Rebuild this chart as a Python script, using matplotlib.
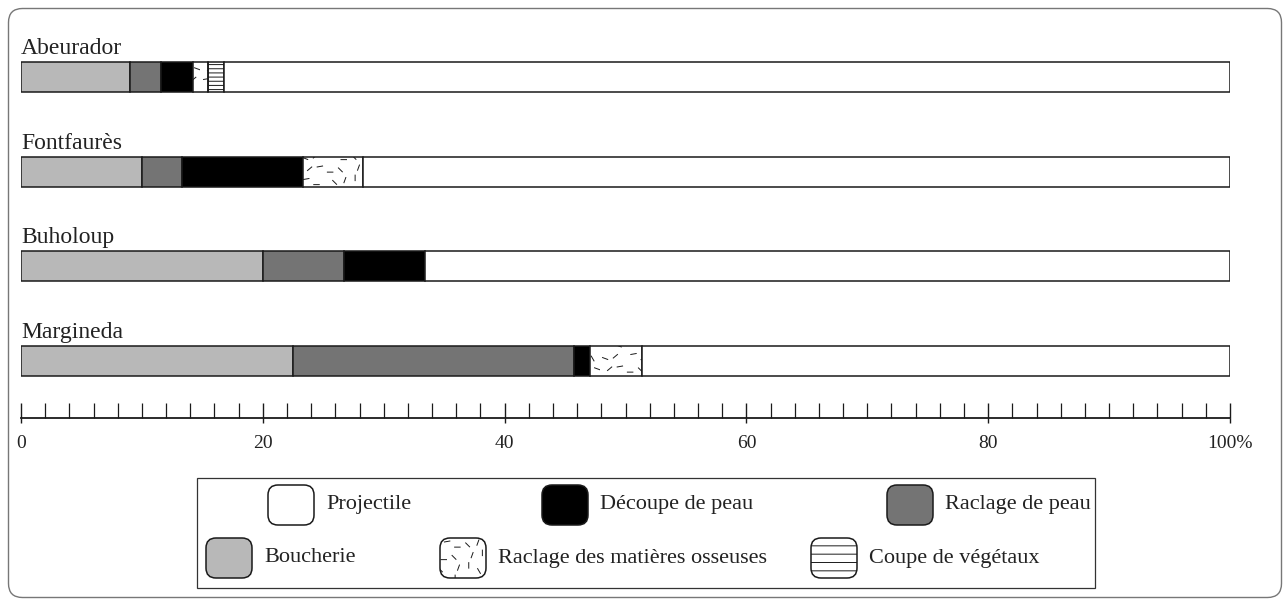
import numpy as np
import matplotlib
matplotlib.use("Agg")
import matplotlib.pyplot as plt
import matplotlib.hatch as mhatch
from matplotlib.path import Path
from matplotlib.patches import FancyBboxPatch, Rectangle

# --- DATA (percent of tools per function) ---
sites = ["Abeurador", "Fontfaurès", "Buholoup", "Margineda"]
boucherie = [9.0, 10.0, 20.0, 22.5]
raclage_peau = [2.6, 3.3, 6.7, 23.2]
decoupe_peau = [2.6, 10.0, 6.7, 1.4]
raclage_os = [1.3, 5.0, 0.0, 4.3]
coupe_vegetaux = [1.3, 0.0, 0.0, 0.0]

x_ticks = [0, 20, 40, 60, 80, 100]
x_tick_labels = ["0", "20", "40", "60", "80", "100%"]

legend_row1 = ["Projectile", "Découpe de peau", "Raclage de peau"]
legend_row2 = ["Boucherie", "Raclage des matières osseuses", "Coupe de végétaux"]

# --- STYLES ---
# name -> (facecolor, bar hatch, legend hatch)
styles = {
    "Boucherie": ("#b8b8b8", None, None),
    "Raclage de peau": ("#747474", None, None),
    "Découpe de peau": ("#000000", None, None),
    "Raclage des matières osseuses": ("white", "*", "*"),
    "Coupe de végétaux": ("white", "---+", "--"),
    "Projectile": ("white", None, None),
}
EDGE = "#1a1a1a"
TEXT = "#222222"


# --- custom hatch: scattered short dashes (replaces the star hatch) ---
class ScatterDashHatch(mhatch.HatchPatternBase):
    def __init__(self, hatch, density):
        self.n = int(round(hatch.count('*') * density * 4 / 3))
        self.num_vertices = self.n * self.n * 2

    def set_vertices_and_codes(self, vertices, codes):
        n = self.n
        angles = np.deg2rad([0, 90, 40, -45, 120, 10, 70, -20])
        half = 0.22 / n
        k = 0
        for i in range(n):
            for j in range(n):
                cx = (i + 0.5) / n + (((i * 5 + j * 3) % 7) - 3) * 0.09 / n
                cy = (j + 0.5) / n + (((i * 2 + j * 5) % 7) - 3) * 0.09 / n
                a = angles[(i * 3 + j * 5) % len(angles)]
                dx, dy = half * np.cos(a), half * np.sin(a)
                vertices[k] = (cx - dx, cy - dy)
                vertices[k + 1] = (cx + dx, cy + dy)
                codes[k] = Path.MOVETO
                codes[k + 1] = Path.LINETO
                k += 2


mhatch._hatch_types[:] = [t for t in mhatch._hatch_types
                          if t is not mhatch.Stars] + [ScatterDashHatch]

plt.rcParams['font.family'] = ['Liberation Serif', 'DejaVu Serif']
plt.rcParams['hatch.linewidth'] = 0.7

W, H = 1286, 601
fig = plt.figure(figsize=(W / 100, H / 100), dpi=100)

# background layer in pixel coordinates (frame + legend)
lax = fig.add_axes([0, 0, 1, 1], zorder=0)
lax.set_xlim(0, W)
lax.set_ylim(H, 0)
lax.axis("off")

lax.add_patch(FancyBboxPatch((8.5, 8.5), 1273, 589,
                             boxstyle="round,pad=0,rounding_size=14",
                             fc="none", ec="#777777", lw=1.0))

# --- BARS ---
ax = fig.add_axes([21 / W, (H - 418) / H, (1230 - 21) / W, (418 - 30) / H], zorder=2)
ax.set_facecolor("none")
bar_h = 0.317
y = np.arange(len(sites))

series = [
    ("Boucherie", boucherie),
    ("Raclage de peau", raclage_peau),
    ("Découpe de peau", decoupe_peau),
    ("Raclage des matières osseuses", raclage_os),
    ("Coupe de végétaux", coupe_vegetaux),
]
left = np.zeros(len(sites))
for name, vals in series:
    fc, hatch, _ = styles[name]
    vals = np.array(vals)
    mask = vals > 0
    ax.barh(y[mask], vals[mask], left=left[mask], height=bar_h, color=fc,
            edgecolor=EDGE, linewidth=1.1, hatch=hatch)
    left += vals
projectile = 100 - left
ax.barh(y, projectile, left=left, height=bar_h, color=styles["Projectile"][0],
        edgecolor=EDGE, linewidth=1.1)

for i, site in enumerate(sites):
    ax.annotate(site, (0, i - bar_h / 2), xytext=(0, 8), textcoords="offset pixels",
                ha="left", va="baseline", fontsize=17, color=TEXT)

ax.set_xlim(0, 100)
ax.set_ylim(3.602, -0.4965)
ax.set_yticks([])
for s in ["top", "left", "right"]:
    ax.spines[s].set_visible(False)
ax.spines["bottom"].set_linewidth(1.3)
ax.spines["bottom"].set_color(EDGE)

ax.set_xticks(x_ticks)
ax.set_xticklabels(x_tick_labels)
ax.set_xticks(np.arange(0, 101, 2), minor=True)
ax.tick_params(axis="x", which="major", direction="in", length=10.8, width=1.0,
               color=EDGE, labelsize=14, labelcolor=TEXT, pad=12)
ax.tick_params(axis="x", which="minor", direction="in", length=10.5, width=0.9,
               color=EDGE)

# major ticks poke slightly below the ruler
sec = ax.secondary_xaxis("bottom")
sec.set_xticks(x_ticks)
sec.tick_params(axis="x", direction="out", length=3.6, width=1.0, color=EDGE,
                labelbottom=False)
sec.spines["bottom"].set_visible(False)

# --- LEGEND (pixel layout) ---
lax.add_patch(Rectangle((197, 478), 898, 110, fc="white", ec="#333333", lw=0.9))
legend_layout = [(legend_row1, 485, [268, 542, 887]),
                 (legend_row2, 538, [206, 440, 811])]
for names, top, xs in legend_layout:
    for name, x0 in zip(names, xs):
        fc, _, lhatch = styles[name]
        lax.add_patch(FancyBboxPatch((x0, top), 46, 40,
                                     boxstyle="round,pad=0,rounding_size=10",
                                     fc=fc, ec=EDGE, lw=1.1, hatch=lhatch))
        lax.text(x0 + 58, top + 20, name, ha="left", va="center",
                 fontsize=16, color=TEXT)

fig.savefig("out.png", dpi=100)
